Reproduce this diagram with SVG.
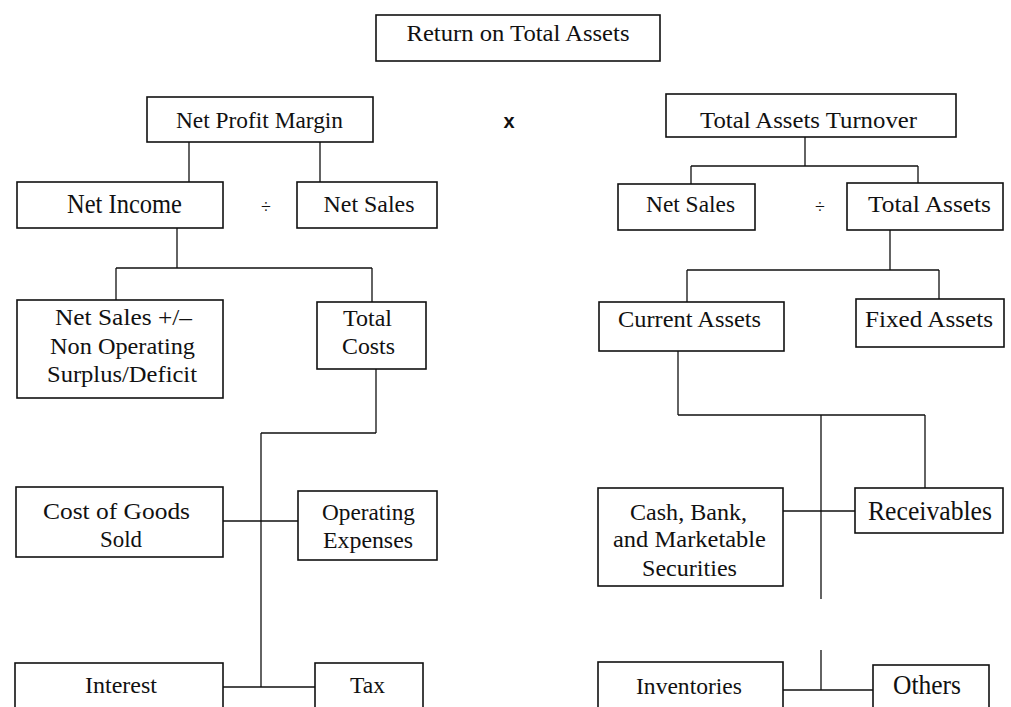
<svg xmlns="http://www.w3.org/2000/svg" width="1011" height="707" viewBox="0 0 1011 707">
<style>
.box{fill:#fff;stroke:#111;stroke-width:1.6}
.ln{fill:none;stroke:#111;stroke-width:1.3}
text{font-family:"Liberation Serif","Times New Roman",serif;font-size:23px;fill:#111;text-anchor:middle}
.big{font-size:27px}
.op{font-size:18px}
.x{font-family:"Liberation Sans",Arial,sans-serif;font-weight:bold;font-size:20px}
</style>
<rect width="1011" height="707" fill="#fff"/>
<g id="connectors">
<path class="ln" d="M189 142V182M320 142V182"/>
<path class="ln" d="M805 137V166M691 166H918M691 166V184M918 166V183"/>
<path class="ln" d="M177 228V268M116 268H372M116 268V300M372 268V302"/>
<path class="ln" d="M376 369V433M261 433H376M261 433V687"/>
<path class="ln" d="M223 521H298M223 687H315"/>
<path class="ln" d="M890 230V270M687 270H939M687 270V302M939 270V299"/>
<path class="ln" d="M678 351V415M678 415H925M821 415V599M925 415V488"/>
<path class="ln" d="M783 511H856M821 650V690M783 690H873"/>
</g>
<g id="return-on-total-assets"><rect class="box" x="376" y="15" width="284" height="46"/><text x="518" y="41" textLength="223" lengthAdjust="spacingAndGlyphs">Return on Total Assets</text></g>
<g id="net-profit-margin"><rect class="box" x="147" y="97" width="226" height="45"/><text x="259.5" y="128" textLength="167" lengthAdjust="spacingAndGlyphs">Net Profit Margin</text></g>
<g id="times"><text class="x" x="509" y="128">x</text></g>
<g id="total-assets-turnover"><rect class="box" x="666" y="94" width="290" height="43"/><text x="808.5" y="128" textLength="217" lengthAdjust="spacingAndGlyphs">Total Assets Turnover</text></g>
<g id="net-income"><rect class="box" x="17" y="182" width="206" height="46"/><text class="big" x="124.5" y="213" textLength="115" lengthAdjust="spacingAndGlyphs">Net Income</text></g>
<g id="div-left"><text class="op" x="266" y="213">÷</text></g>
<g id="net-sales-left"><rect class="box" x="297" y="182" width="140" height="46"/><text x="369" y="212" textLength="91" lengthAdjust="spacingAndGlyphs">Net Sales</text></g>
<g id="net-sales-right"><rect class="box" x="618" y="184" width="137" height="46"/><text x="690.5" y="212" textLength="89" lengthAdjust="spacingAndGlyphs">Net Sales</text></g>
<g id="div-right"><text class="op" x="820" y="213">÷</text></g>
<g id="total-assets"><rect class="box" x="847" y="183" width="156" height="47"/><text x="929.5" y="212" textLength="123" lengthAdjust="spacingAndGlyphs">Total Assets</text></g>
<g id="net-sales-non-operating"><rect class="box" x="17" y="300" width="206" height="98"/>
<text x="123.5" y="325" textLength="137" lengthAdjust="spacingAndGlyphs">Net Sales +/–</text>
<text x="122.5" y="354" textLength="145" lengthAdjust="spacingAndGlyphs">Non Operating</text>
<text x="122" y="382" textLength="150" lengthAdjust="spacingAndGlyphs">Surplus/Deficit</text></g>
<g id="total-costs"><rect class="box" x="317" y="302" width="109" height="67"/>
<text x="367.5" y="326" textLength="49" lengthAdjust="spacingAndGlyphs">Total</text>
<text x="368.5" y="354" textLength="53" lengthAdjust="spacingAndGlyphs">Costs</text></g>
<g id="current-assets"><rect class="box" x="599" y="302" width="185" height="49"/><text x="689.5" y="327" textLength="143" lengthAdjust="spacingAndGlyphs">Current Assets</text></g>
<g id="fixed-assets"><rect class="box" x="856" y="299" width="148" height="48"/><text x="929" y="327" textLength="128" lengthAdjust="spacingAndGlyphs">Fixed Assets</text></g>
<g id="cost-of-goods-sold"><rect class="box" x="16" y="487" width="207" height="70"/>
<text x="116.5" y="519" textLength="147" lengthAdjust="spacingAndGlyphs">Cost of Goods</text>
<text x="121" y="547" textLength="42" lengthAdjust="spacingAndGlyphs">Sold</text></g>
<g id="operating-expenses"><rect class="box" x="298" y="491" width="139" height="69"/>
<text x="368.5" y="520" textLength="93" lengthAdjust="spacingAndGlyphs">Operating</text>
<text x="368" y="548" textLength="90" lengthAdjust="spacingAndGlyphs">Expenses</text></g>
<g id="cash-bank"><rect class="box" x="598" y="488" width="185" height="98"/>
<text x="688.5" y="520" textLength="117" lengthAdjust="spacingAndGlyphs">Cash, Bank,</text>
<text x="689.5" y="547" textLength="153" lengthAdjust="spacingAndGlyphs">and Marketable</text>
<text x="689.5" y="576" textLength="95" lengthAdjust="spacingAndGlyphs">Securities</text></g>
<g id="receivables"><rect class="box" x="855" y="488" width="148" height="45"/><text class="big" x="930" y="520" textLength="124" lengthAdjust="spacingAndGlyphs">Receivables</text></g>
<g id="interest"><rect class="box" x="15" y="663" width="208" height="60"/><text x="121" y="693" textLength="72" lengthAdjust="spacingAndGlyphs">Interest</text></g>
<g id="tax"><rect class="box" x="315" y="663" width="108" height="60"/><text x="367.5" y="693" textLength="35" lengthAdjust="spacingAndGlyphs">Tax</text></g>
<g id="inventories"><rect class="box" x="598" y="662" width="185" height="60"/><text x="689" y="694" textLength="106" lengthAdjust="spacingAndGlyphs">Inventories</text></g>
<g id="others"><rect class="box" x="873" y="665" width="116" height="60"/><text class="big" x="927" y="694" textLength="68" lengthAdjust="spacingAndGlyphs">Others</text></g>
</svg>
